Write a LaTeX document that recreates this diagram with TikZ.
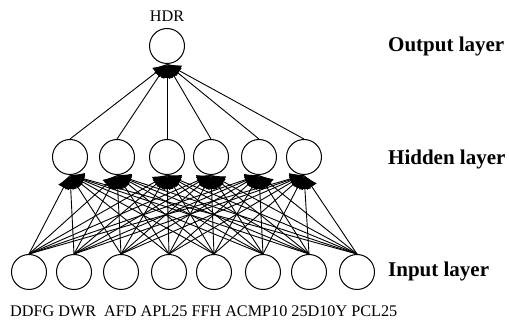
\documentclass[tikz,border=0pt]{standalone}
\usepackage{fontspec}
\setmainfont{Liberation Serif}
\usetikzlibrary{arrows.meta}
\begin{document}
\begin{tikzpicture}[x=1pt,y=-1pt,
  neuron/.style={draw,circle,line width=1pt,minimum size=35pt,inner sep=0pt},
  link/.style={line width=0.9pt,-{Latex[length=14pt,width=12pt]}},
  varname/.style={font=\fontsize{16.2}{18}\selectfont,inner sep=0pt},
  layername/.style={font=\fontsize{21}{23}\selectfont\bfseries,anchor=base west,inner sep=0pt}]
\useasboundingbox (0,0) rectangle (509,320);

% input layer
\foreach \i/\x in {1/29,2/74,3/121,4/169,5/214,6/263,7/309,8/357}
  \node[neuron] (in\i) at (\x,272) {};
% hidden layer
\foreach \j/\x in {1/70,2/117,3/167,4/211,5/259,6/304}
  \node[neuron] (hid\j) at (\x,157) {};
% output layer
\node[neuron] (out) at (167,46) {};

% connections
\foreach \i in {1,...,8}
  \foreach \j in {1,...,6}
    \draw[link] (in\i.north) -- (hid\j.south);
\foreach \j in {1,...,6}
  \draw[link] (hid\j.north) -- (out.south);

% variable names
\node[varname,anchor=base] (hdr) at (167,22) {HDR};
\node[varname,anchor=base west] (inputs) at (10,317)
  {DDFG DWR\ \ AFD APL25 FFH ACMP10 25D10Y PCL25};

% layer names
\node[layername] (lo) at (388,52) {Output layer};
\node[layername] (lh) at (388,165) {Hidden layer};
\node[layername] (li) at (388,277) {Input layer};
\end{tikzpicture}
\end{document}
